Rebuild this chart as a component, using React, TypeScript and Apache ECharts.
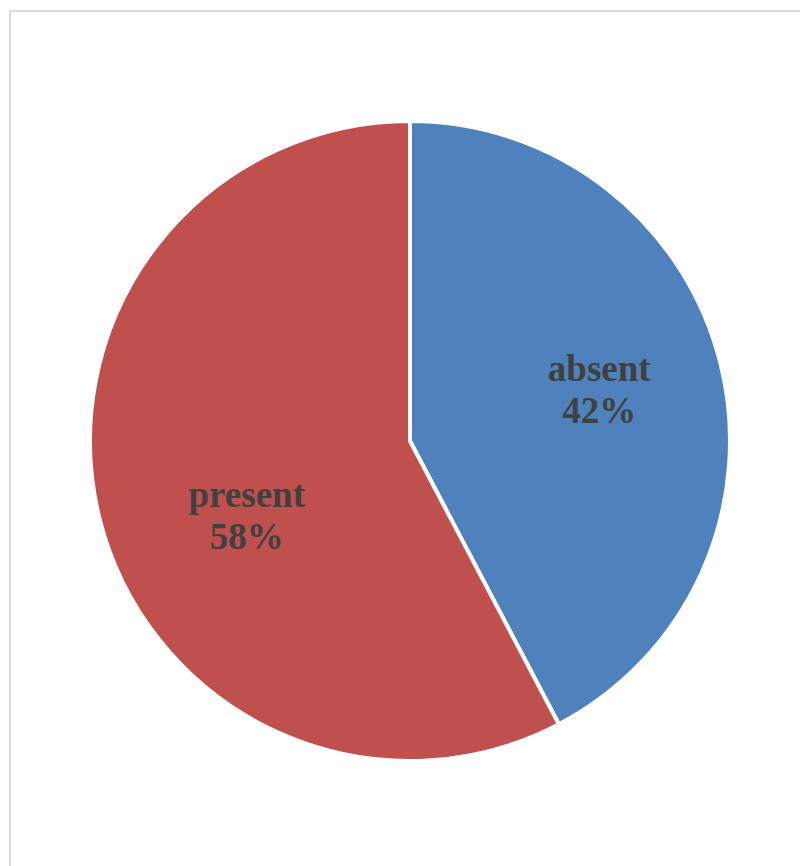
import React, { useEffect, useRef } from "react";
import * as echarts from "echarts";

const categories = ["absent", "present"];
const values = [42.3, 57.7];
const sliceColors = ["#4F81BD", "#C0504D"];
const labelOffsets = [
  [31, -12],
  [-5, 35],
];

export default function App() {
  const ref = useRef<HTMLDivElement>(null);
  useEffect(() => {
    if (!ref.current) return;
    const chart = echarts.init(ref.current, null, { renderer: "svg" });
    chart.setOption({
      animation: false,
      backgroundColor: "#ffffff",
      graphic: [
        {
          type: "rect",
          shape: { x: 10, y: 11, width: 1000, height: 1000 },
          style: { fill: "none", stroke: "#dadada", lineWidth: 2 },
          silent: true,
        },
      ],
      series: [
        {
          type: "pie",
          center: [410, 441],
          radius: [0, 320],
          startAngle: 90,
          clockwise: true,
          itemStyle: { borderColor: "#ffffff", borderWidth: 4 },
          label: {
            show: true,
            position: "inside",
            formatter: (p: any) => `${p.name}\n${Math.round(p.percent)}%`,
            fontFamily: "'Liberation Serif', 'Times New Roman', serif",
            fontWeight: "bold",
            fontSize: 37,
            lineHeight: 42,
            color: "#404040",
          },
          labelLine: { show: false },
          emphasis: { disabled: true },
          data: categories.map((c, i) => ({
            name: c,
            value: values[i],
            itemStyle: { color: sliceColors[i] },
            label: { offset: labelOffsets[i] },
          })),
        },
      ],
    });
    return () => chart.dispose();
  }, []);
  return (
    <div
      ref={ref}
      style={{ position: "absolute", left: 0, top: 0, width: 800, height: 866 }}
    />
  );
}
